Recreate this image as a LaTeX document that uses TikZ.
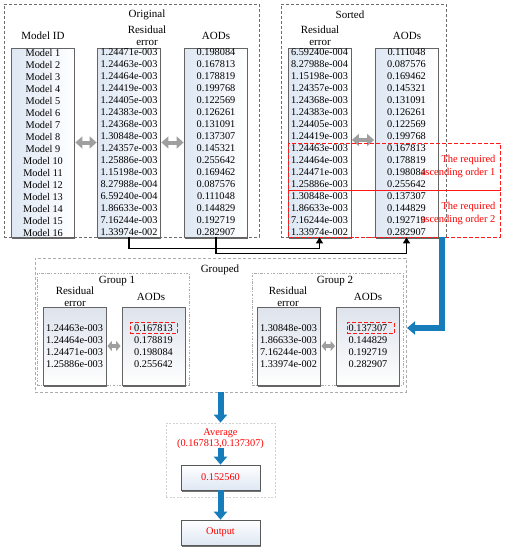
\documentclass[tikz,border=0pt]{standalone}
\usepackage{fontspec}
\setmainfont{Liberation Serif}
\usetikzlibrary{arrows.meta,shadows}
\definecolor{bluearr}{RGB}{22,124,186}
\definecolor{colfill}{RGB}{222,231,243}
\definecolor{grpfill}{RGB}{222,227,236}
\definecolor{dgray}{RGB}{100,100,100}
\newcommand{\cellfont}{\fontsize{10.3}{12}\selectfont}
\newcommand{\headfont}{\fontsize{11}{12.5}\selectfont}
\begin{document}
\begin{tikzpicture}[x=1pt,y=-1pt,
  outerbox/.style={draw=gray!85!black, dash pattern=on 3pt off 2pt, line width=0.9pt, inner sep=0pt},
  innerbox/.style={draw=gray!65, dash pattern=on 2.5pt off 1.5pt on 0.8pt off 1.5pt, line width=0.7pt, inner sep=0pt},
  colbox/.style={draw=dgray, line width=0.8pt, left color=colfill, right color=white, inner xsep=0pt, inner ysep=0pt,
     minimum width=63pt, minimum height=189pt, font=\cellfont, align=center,
     drop shadow={shadow xshift=0.5pt, shadow yshift=-1.6pt, fill=black!60, opacity=1}},
  grpcol/.style={draw=dgray, line width=0.8pt, top color=grpfill, bottom color=white, inner sep=0pt,
     minimum width=63pt, minimum height=78pt, font=\cellfont, align=center,
     drop shadow={shadow xshift=0.5pt, shadow yshift=-1.6pt, fill=black!60, opacity=1}},
  valbox/.style={draw=gray!70!black, line width=0.7pt, top color=white, bottom color=colfill, inner sep=0pt,
     minimum width=79pt, minimum height=25pt, font=\cellfont, text=red,
     drop shadow={shadow xshift=0.5pt, shadow yshift=-1.6pt, fill=black!55, opacity=1}},
  head/.style={font=\headfont, align=center},
  grayarr/.style={draw=gray!75, line width=4pt, {Triangle[width=12pt,length=7pt]}-{Triangle[width=12pt,length=7pt]}, shorten <=0.5pt, shorten >=0.5pt},
  grayarrs/.style={draw=gray!75, line width=4pt, {Triangle[width=10pt,length=4.5pt]}-{Triangle[width=10pt,length=4.5pt]}, shorten <=1pt, shorten >=1pt},
  conn/.style={draw=black, line width=1.6pt, -{Triangle[width=7pt,length=6pt]}},
  bluearrow/.style={draw=bluearr, line width=6pt, -{Triangle[width=13pt,length=8pt]}},
  reddash/.style={draw=red!90, dash pattern=on 4pt off 2pt, line width=0.8pt},
  redtxt/.style={text=red, font=\fontsize{10.5}{13}\selectfont, align=right}
]
\useasboundingbox[fill=white] (0,0) rectangle (506,550);

% ---------- Original ----------
\node[outerbox, minimum width=255pt, minimum height=233pt] (O) at (131.5,120.5) {};
\node[head] (Ot) at (147,15) {Original};
\node[head] (OtR) at (147,35.5) {Residual\\error};
\node[head] (OtM) at (43,36) {Model ID};
\node[head] (OtA) at (216,36) {AODs};
\node[colbox] (oM) at (43,142.5) {Model 1\\Model 2\\Model 3\\Model 4\\Model 5\\Model 6\\Model 7\\Model 8\\Model 9\\Model 10\\Model 11\\Model 12\\Model 13\\Model 14\\Model 15\\Model 16};
\node[colbox] (oR) at (129,142.5) {1.24471e-003\\1.24463e-003\\1.24464e-003\\1.24419e-003\\1.24405e-003\\1.24383e-003\\1.24368e-003\\1.30848e-003\\1.24357e-003\\1.25886e-003\\1.15198e-003\\8.27988e-004\\6.59240e-004\\1.86633e-003\\7.16244e-003\\1.33974e-002};
\node[colbox] (oA) at (216,142.5) {0.198084\\0.167813\\0.178819\\0.199768\\0.122569\\0.126261\\0.131091\\0.137307\\0.145321\\0.255642\\0.169462\\0.087576\\0.111048\\0.144829\\0.192719\\0.282907};
\draw[grayarr] (oM.east) -- (oR.west);
\draw[grayarr] (oR.east) -- (oA.west);

% ---------- Sorted ----------
\node[outerbox, minimum width=165pt, minimum height=233pt] (S) at (363.5,120.5) {};
\node[head] (St) at (350,15) {Sorted};
\node[head] (StR) at (320,35.5) {Residual\\error};
\node[head] (StA) at (407,36) {AODs};
\node[colbox] (sR) at (319.5,142.5) {6.59240e-004\\8.27988e-004\\1.15198e-003\\1.24357e-003\\1.24368e-003\\1.24383e-003\\1.24405e-003\\1.24419e-003\\1.24463e-003\\1.24464e-003\\1.24471e-003\\1.25886e-003\\1.30848e-003\\1.86633e-003\\7.16244e-003\\1.33974e-002};
\node[colbox] (sA) at (406.5,142.5) {0.111048\\0.087576\\0.169462\\0.145321\\0.131091\\0.126261\\0.122569\\0.199768\\0.167813\\0.178819\\0.198084\\0.255642\\0.137307\\0.144829\\0.192719\\0.282907};
\draw[grayarr] ([yshift=2.5pt]sR.east) -- ([yshift=2.5pt]sA.west);
\draw[reddash] (288,143) rectangle (500,190);
\draw[reddash] (288,190) rectangle (500,237);
\node[redtxt, anchor=east] (rt1) at (499,166.5) {The required\\ascending order 1};
\node[redtxt, anchor=east] (rt2) at (499,213.5) {The required\\ascending order 2};

% connectors original -> sorted
\draw[conn] (oR.south) -- ++(0,11) -| (sR.south);
\draw[conn] (oA.south) -- ++(0,16) -| (sA.south);

% ---------- Grouped ----------
\node[outerbox, draw=gray!65, line width=0.8pt, minimum width=371pt, minimum height=134pt] (G) at (220.5,325) {};
\node[head] (Gt) at (220,270) {Grouped};
\node[innerbox, minimum width=152pt, minimum height=112pt] (G1) at (113,329) {};
\node[innerbox, minimum width=151pt, minimum height=112pt] (G2) at (327.5,329) {};
\node[head] (G1t) at (117,281) {Group 1};
\node[head] (G1R) at (75,296.5) {Residual\\error};
\node[head] (G1A) at (151,297) {AODs};
\node[head] (G2t) at (335,281) {Group 2};
\node[head] (G2R) at (288,296.5) {Residual\\error};
\node[head] (G2A) at (368,297) {AODs};

\node[grpcol] (g1R) at (74.5,346) {1.24463e-003\\1.24464e-003\\1.24471e-003\\1.25886e-003};
\node[grpcol] (g1A) at (153.5,346) {0.167813\\0.178819\\0.198084\\0.255642};
\node[grpcol] (g2R) at (288.5,346) {1.30848e-003\\1.86633e-003\\7.16244e-003\\1.33974e-002};
\node[grpcol] (g2A) at (368,346) {0.137307\\0.144829\\0.192719\\0.282907};
\draw[grayarrs] (g1R.east) -- (g1A.west);
\draw[grayarrs] (g2R.east) -- (g2A.west);
\node[reddash, minimum width=47pt, minimum height=11pt, inner sep=0pt] (h1) at (153.5,328) {};
\node[reddash, minimum width=47pt, minimum height=11pt, inner sep=0pt] (h2) at (370.5,328) {};

% blue arrow sorted -> grouped
\coordinate (bs) at (442,237);
\coordinate (be) at (407,328);
\draw[bluearrow, line join=miter] (bs) |- (be);

% ---------- Average / output ----------
\node[draw=gray!35, dash pattern=on 2pt off 1.5pt, line width=0.7pt, minimum width=109pt, minimum height=74pt, inner sep=0pt] (A) at (220.5,460) {};
\node[text=red, font=\fontsize{10.3}{11.5}\selectfont, align=center, inner sep=1pt] (avg) at (220.5,438.5) {Average\\(0.167813,0.137307)};
\node[valbox] (val) at (220.5,477.5) {0.152560};
\node[valbox] (out) at (220.5,532.5) {Output};
\draw[bluearrow] (G.south) -- (A.north);
\draw[bluearrow] ([yshift=2pt]avg.south) -- (val.north);
\draw[bluearrow] (val.south) -- (out.north);
\end{tikzpicture}
\end{document}
